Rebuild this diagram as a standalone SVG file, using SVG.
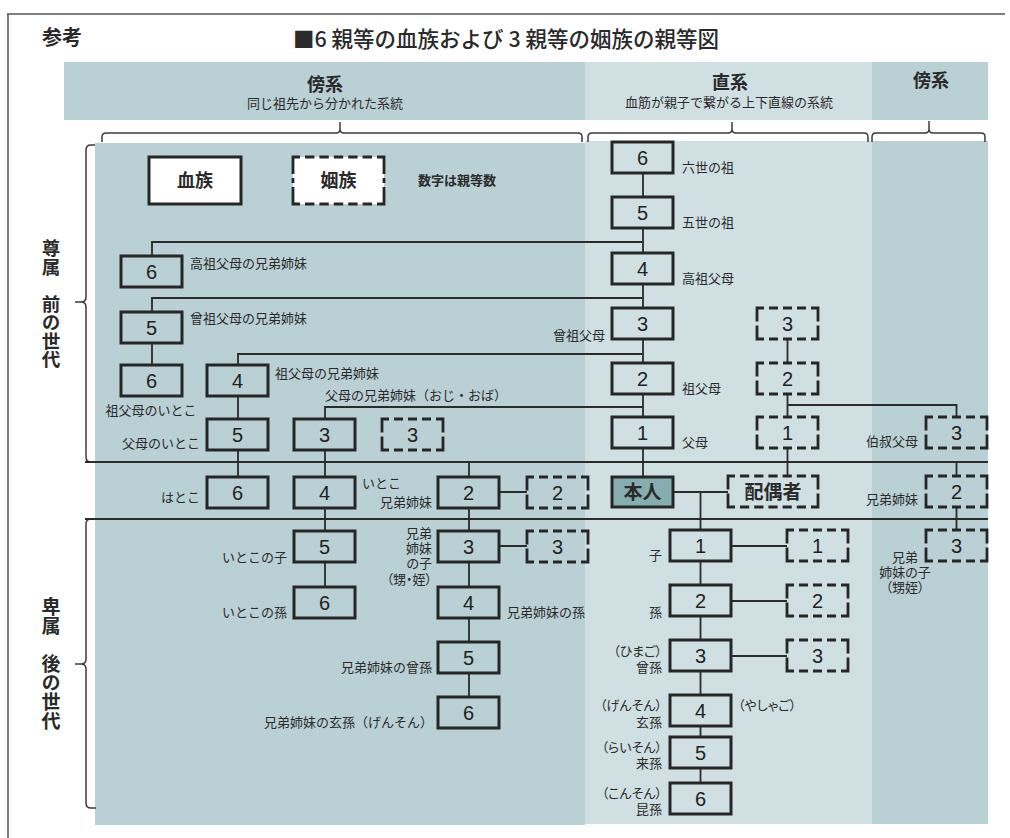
<svg xmlns="http://www.w3.org/2000/svg" width="1010" height="838" viewBox="0 0 1010 838">
<style>
.bg{fill:#b9d0d4}
.bgl{fill:#d0e0e2}
.box{fill:none;stroke:#262626;stroke-width:3}
.sl{fill:none;stroke:#262626;stroke-width:2.8}
.ds{fill:none;stroke:#262626;stroke-width:2.8;stroke-dasharray:0 5 9 0}
.ds90{fill:none;stroke:#262626;stroke-width:2.8;stroke-dasharray:0 5 9.2 0}
.ds91{fill:none;stroke:#262626;stroke-width:2.8;stroke-dasharray:0 5 9.4 0}
.ln{fill:none;stroke:#2b2b2b;stroke-width:1.8}
.br{fill:none;stroke:#3a3a3a;stroke-width:1.5}
.fr{fill:none;stroke:#555;stroke-width:1.5}
.n{font-family:"Liberation Sans",Arial,sans-serif;font-size:20px;fill:#222;text-anchor:middle}
.t{font-family:"Noto Sans CJK JP","Noto Sans",sans-serif;font-size:13px;fill:#2b2b2b}
.p{font-feature-settings:"palt"}
.e{text-anchor:end}
.m{text-anchor:middle}
.h{font-family:"Noto Sans CJK JP","Noto Sans",sans-serif;font-weight:700;fill:#2a2a2a}
.v{font-family:"Noto Sans CJK JP","Noto Sans",sans-serif;font-weight:700;fill:#2a2a2a;writing-mode:vertical-rl}
</style>
<defs>
<g id="d61">
<path class="sl" d="M7,0H0V13.5M0,17.5V31H7M54,0H61V13.5M61,17.5V31H54"/>
<path class="ds" d="M7,0H54"/>
<path class="ds" d="M7,31H54"/>
</g>
<g id="d90">
<path class="sl" d="M7,0H0V13.5M0,17.5V31H7M83,0H90V13.5M90,17.5V31H83"/>
<path class="ds90" d="M7,0H83"/>
<path class="ds90" d="M7,31H83"/>
</g>
<g id="d91">
<path class="sl" d="M7,0H0V17M0,21V26M0,30V47H7M84,0H91V17M91,21V26M91,30V47H84"/>
<path class="ds91" d="M7,0H84"/>
<path class="ds91" d="M7,47H84"/>
</g>
</defs>

<!-- frame -->
<path class="fr" d="M7,14H1005M8,14V838"/>

<!-- title -->
<text x="42" y="45" class="h" font-size="20">参考</text>
<text x="293" y="47" font-family="'Noto Sans CJK JP','Noto Sans',sans-serif" font-weight="500" font-size="21.5" fill="#2a2a2a">■6 親等の血族および 3 親等の姻族の親等図</text>

<!-- backgrounds -->
<rect x="64" y="62" width="521" height="58" class="bg"/>
<rect x="585" y="62" width="287" height="58" class="bgl"/>
<rect x="872" y="62" width="116" height="58" class="bg"/>
<rect x="95" y="143" width="490" height="682" class="bg"/>
<rect x="585" y="141" width="287" height="683" class="bgl"/>
<rect x="872" y="141" width="116" height="683" class="bg"/>

<!-- header texts -->
<text x="325" y="91" class="h m" font-size="18">傍系</text>
<text x="325" y="108" class="t m">同じ祖先から分かれた系統</text>
<text x="730" y="89" class="h m" font-size="18">直系</text>
<text x="729" y="107" class="t m">血筋が親子で繋がる上下直線の系統</text>
<text x="931" y="87" class="h m" font-size="18">傍系</text>

<!-- braces -->
<g id="braces">
<path class="br" d="M102,142V137Q102,133 106,133H336Q340,133 340,129V122M340,129Q340,133 344,133H578Q582,133 582,137V142"/>
<path class="br" d="M588,142V137Q588,133 592,133H728Q732,133 732,129V122M732,129Q732,133 736,133H864Q868,133 868,137V142"/>
<path class="br" d="M872,142V137Q872,133 876,133H925Q929,133 929,129V121M929,129Q929,133 933,133H981Q985,133 985,137V142"/>
<path class="br" d="M95,145H91Q86,145 86,150V297Q86,302 81,302H75M81,302Q86,302 86,307V457Q86,462 91,462"/>
<path class="br" d="M91,519Q86,519 86,524V659Q86,664 81,664H75M81,664Q86,664 86,669V803Q86,808 91,808H96"/>
</g>

<!-- side labels -->
<text x="51" y="239" class="v" font-size="18.5">尊属　前の世代</text>
<text x="51" y="597.5" class="v" font-size="19">卑属　後の世代</text>

<!-- legend -->
<g id="legend">
<rect x="149" y="157" width="92" height="47" fill="#fff" stroke="#262626" stroke-width="3"/>
<text x="195" y="187" class="h m" font-size="18">血族</text>
<rect x="293" y="157" width="91" height="47" fill="#fff"/>
<use href="#d91" x="293" y="157"/>
<text x="338.5" y="187" class="h m" font-size="18">姻族</text>
<text x="418" y="185" class="t" font-size="12.5" font-weight="700">数字は親等数</text>
</g>

<!-- connectors -->
<g id="connectors">
<path class="ln" d="M85,462H988M85,519H988"/>
<path class="ln" d="M643,173V197M643,228V253M643,284V308M643,339V363M643,394V417M643,448V477"/>
<path class="ln" d="M152,256V242H643M152,312V298H643M152,343V365M238,365V354H643M238,396V419M238,450V477"/>
<path class="ln" d="M325,419V407H643M325,450V477M325,508V531M325,562V587"/>
<path class="ln" d="M469,462V477M469,508V531M469,562V587M469,618V642M469,673V697M499,492H527M499,546H527"/>
<path class="ln" d="M673,492H728M700.5,492V530M700.5,561V585M700.5,616V640M700.5,671V695M700.5,726V737M700.5,768V783"/>
<path class="ln" d="M731,546H787M731,601H787M731,656H787"/>
<path class="ln" d="M787.5,339V363M787.5,394V417M787.5,448V476M787.5,405H956.5V417M956.5,462V476M956.5,507V530"/>
</g>

<!-- direct line (ascendants) -->
<g id="n-d6"><rect x="612" y="142" width="61" height="31" class="box"/><text x="642.5" y="164.5" class="n">6</text><text x="682" y="171.5" class="t">六世の祖</text></g>
<g id="n-d5"><rect x="612" y="197" width="61" height="31" class="box"/><text x="642.5" y="219.5" class="n">5</text><text x="682" y="226.5" class="t">五世の祖</text></g>
<g id="n-d4"><rect x="612" y="253" width="61" height="31" class="box"/><text x="642.5" y="275.5" class="n">4</text><text x="682" y="282.5" class="t">高祖父母</text></g>
<g id="n-d3"><rect x="612" y="308" width="61" height="31" class="box"/><text x="642.5" y="330.5" class="n">3</text><text x="605" y="339.5" class="t e">曾祖父母</text></g>
<g id="n-d2"><rect x="612" y="363" width="61" height="31" class="box"/><text x="642.5" y="385.5" class="n">2</text><text x="682" y="392.5" class="t">祖父母</text></g>
<g id="n-d1"><rect x="612" y="417" width="61" height="31" class="box"/><text x="642.5" y="439.5" class="n">1</text><text x="682" y="446.5" class="t">父母</text></g>
<g id="n-self"><rect x="612" y="477" width="61" height="30" fill="#86aeb0" stroke="#262626" stroke-width="3"/><text x="642.5" y="499" class="h m" font-size="19">本人</text></g>

<!-- spouse side -->
<g id="n-s3"><use href="#d61" x="757" y="308"/><text x="787.5" y="330.5" class="n">3</text></g>
<g id="n-s2"><use href="#d61" x="757" y="363"/><text x="787.5" y="385.5" class="n">2</text></g>
<g id="n-s1"><use href="#d61" x="757" y="417"/><text x="787.5" y="439.5" class="n">1</text></g>
<g id="n-spouse"><use href="#d90" x="728" y="476"/><text x="773" y="498.5" class="h m" font-size="19">配偶者</text></g>
<g id="n-r3a"><use href="#d61" x="926" y="417"/><text x="956.5" y="439.5" class="n">3</text><text x="918" y="445.5" class="t e">伯叔父母</text></g>
<g id="n-r2"><use href="#d61" x="926" y="476"/><text x="956.5" y="498.5" class="n">2</text><text x="918" y="503.5" class="t e">兄弟姉妹</text></g>
<g id="n-r3b"><use href="#d61" x="926" y="530"/><text x="956.5" y="552.5" class="n">3</text><text class="t m p"><tspan x="905" y="562">兄弟</tspan><tspan x="905" y="577">姉妹の子</tspan><tspan x="905" y="592">（甥姪）</tspan></text></g>

<!-- direct descendants -->
<g id="n-c1"><rect x="670" y="530" width="61" height="31" class="box"/><text x="700.5" y="552.5" class="n">1</text><text x="662" y="559.5" class="t e">子</text></g>
<g id="n-c2"><rect x="670" y="585" width="61" height="31" class="box"/><text x="700.5" y="607.5" class="n">2</text><text x="662" y="616.5" class="t e">孫</text></g>
<g id="n-c3"><rect x="670" y="640" width="61" height="31" class="box"/><text x="700.5" y="662.5" class="n">3</text><text class="t e p"><tspan x="662" y="656">（ひまご）</tspan><tspan x="662" y="671.5">曾孫</tspan></text></g>
<g id="n-c4"><rect x="670" y="695" width="61" height="31" class="box"/><text x="700.5" y="717.5" class="n">4</text><text class="t e p"><tspan x="662" y="709.5">（げんそん）</tspan><tspan x="662" y="726.5">玄孫</tspan></text><text x="738" y="709.5" class="t p">（やしゃご）</text></g>
<g id="n-c5"><rect x="670" y="737" width="61" height="31" class="box"/><text x="700.5" y="759.5" class="n">5</text><text class="t e p"><tspan x="662" y="751.5">（らいそん）</tspan><tspan x="662" y="767.5">来孫</tspan></text></g>
<g id="n-c6"><rect x="670" y="783" width="61" height="31" class="box"/><text x="700.5" y="805.5" class="n">6</text><text class="t e p"><tspan x="662" y="797.5">（こんそん）</tspan><tspan x="662" y="813.5">昆孫</tspan></text></g>
<g id="n-cs1"><use href="#d61" x="787" y="530"/><text x="817.5" y="552.5" class="n">1</text></g>
<g id="n-cs2"><use href="#d61" x="787" y="585"/><text x="817.5" y="607.5" class="n">2</text></g>
<g id="n-cs3"><use href="#d61" x="787" y="640"/><text x="817.5" y="662.5" class="n">3</text></g>

<!-- collaterals left -->
<g id="n-a6"><rect x="121" y="256" width="61" height="31" class="box"/><text x="151.5" y="278.5" class="n">6</text><text x="190" y="267.5" class="t">高祖父母の兄弟姉妹</text></g>
<g id="n-a5"><rect x="121" y="312" width="61" height="31" class="box"/><text x="151.5" y="334.5" class="n">5</text><text x="190" y="322.5" class="t">曾祖父母の兄弟姉妹</text></g>
<g id="n-a6b"><rect x="121" y="365" width="61" height="31" class="box"/><text x="151.5" y="387.5" class="n">6</text><text x="151" y="414.5" class="t m">祖父母のいとこ</text></g>
<g id="n-b4"><rect x="207" y="365" width="61" height="31" class="box"/><text x="237.5" y="387.5" class="n">4</text><text x="275" y="377.5" class="t">祖父母の兄弟姉妹</text></g>
<g id="n-b5"><rect x="207" y="419" width="61" height="31" class="box"/><text x="237.5" y="441.5" class="n">5</text><text x="200" y="447.5" class="t e">父母のいとこ</text></g>
<g id="n-b6"><rect x="207" y="477" width="61" height="31" class="box"/><text x="237.5" y="499.5" class="n">6</text><text x="200" y="501.5" class="t e">はとこ</text></g>
<g id="n-c3l"><rect x="294" y="419" width="61" height="31" class="box"/><text x="324.5" y="441.5" class="n">3</text><text x="325" y="399.5" class="t">父母の兄弟姉妹（おじ・おば）</text></g>
<g id="n-c3d"><use href="#d61" x="382" y="419"/><text x="412.5" y="441.5" class="n">3</text></g>
<g id="n-c4l"><rect x="294" y="477" width="61" height="31" class="box"/><text x="324.5" y="499.5" class="n">4</text><text x="362" y="488" class="t">いとこ</text></g>
<g id="n-c5l"><rect x="294" y="531" width="61" height="31" class="box"/><text x="324.5" y="553.5" class="n">5</text><text x="287" y="561.5" class="t e">いとこの子</text></g>
<g id="n-c6l"><rect x="294" y="587" width="61" height="31" class="box"/><text x="324.5" y="609.5" class="n">6</text><text x="287" y="616.5" class="t e">いとこの孫</text></g>
<g id="n-e2"><rect x="438" y="477" width="61" height="31" class="box"/><text x="468.5" y="499.5" class="n">2</text><text x="432" y="506.5" class="t e">兄弟姉妹</text></g>
<g id="n-e2d"><use href="#d61" x="527" y="477"/><text x="557.5" y="499.5" class="n">2</text></g>
<g id="n-e3"><rect x="438" y="531" width="61" height="31" class="box"/><text x="468.5" y="553.5" class="n">3</text><text class="t e p"><tspan x="432" y="537.5">兄弟</tspan><tspan x="432" y="552.5">姉妹</tspan><tspan x="432" y="567.5">の子</tspan><tspan x="432" y="583.5">（甥・姪）</tspan></text></g>
<g id="n-e3d"><use href="#d61" x="527" y="531"/><text x="557.5" y="553.5" class="n">3</text></g>
<g id="n-e4"><rect x="438" y="587" width="61" height="31" class="box"/><text x="468.5" y="609.5" class="n">4</text><text x="507" y="616.5" class="t">兄弟姉妹の孫</text></g>
<g id="n-e5"><rect x="438" y="642" width="61" height="31" class="box"/><text x="468.5" y="664.5" class="n">5</text><text x="432" y="671.5" class="t e">兄弟姉妹の曾孫</text></g>
<g id="n-e6"><rect x="438" y="697" width="61" height="31" class="box"/><text x="468.5" y="719.5" class="n">6</text><text x="433" y="726.5" class="t e">兄弟姉妹の玄孫（げんそん）</text></g>
</svg>
